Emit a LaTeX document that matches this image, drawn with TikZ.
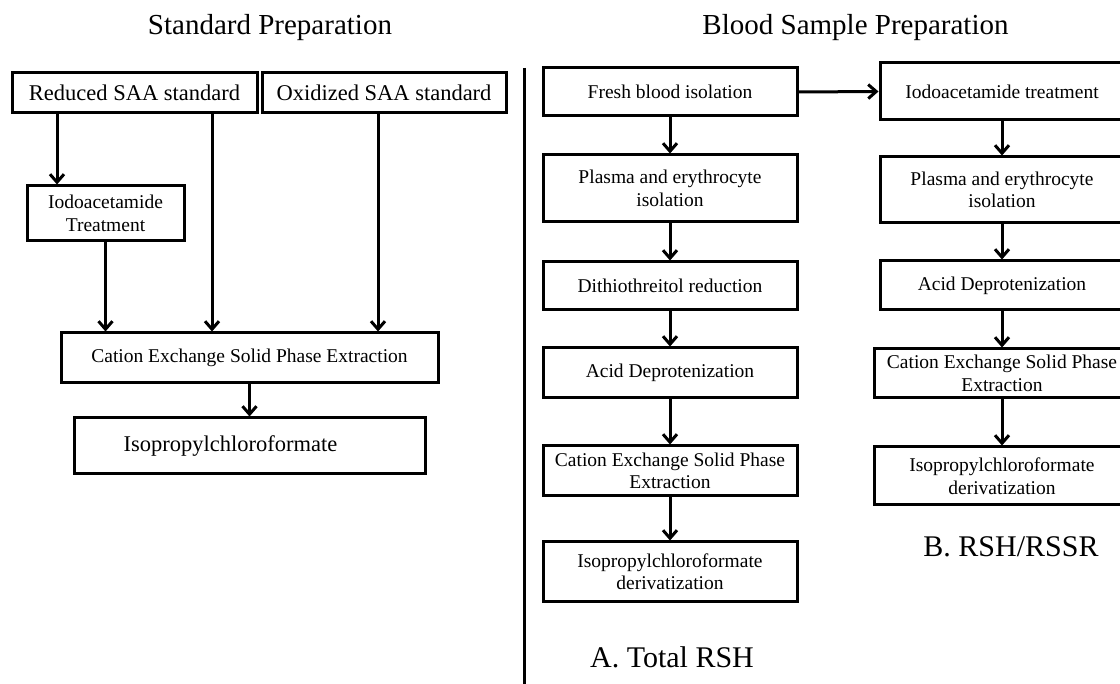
\documentclass[tikz,border=0pt]{standalone}
\usepackage{fontspec}
\setmainfont{Liberation Serif}
\usetikzlibrary{arrows.meta}
\tikzset{
  box/.style={draw=black, line width=3pt, rectangle, inner sep=0pt, align=center,
    font=\fontsize{19.5}{22.5}\selectfont},
  bigbox/.style={box, font=\fontsize{22.5}{26}\selectfont},
  arr/.style={line width=3pt, -{Straight Barb[length=8pt,width=14pt,line width=3pt]}},
  title/.style={anchor=base, inner sep=0pt, font=\fontsize{29}{34}\selectfont},
  tag/.style={anchor=base, inner sep=0pt, font=\fontsize{30}{36}\selectfont},
}
\begin{document}
\begin{tikzpicture}[x=1pt,y=-1pt]
\useasboundingbox[fill=white] (0,0) rectangle (1120,684);

% titles
\node[title] (t1) at (270,35) {Standard Preparation};
\node[title] (t2) at (855.5,35) {Blood Sample Preparation};

% divider
\coordinate (d1) at (524,68);
\coordinate (d2) at (524,684);
\draw[line width=3pt] (d1) -- (d2);

% standard preparation
\node[bigbox, minimum width=245pt, minimum height=40pt] (red) at (134.5,93) {Reduced SAA standard};
\node[bigbox, minimum width=244pt, minimum height=40pt] (ox) at (384,93) {Oxidized SAA standard};
\node[box, minimum width=157pt, minimum height=55pt] (iodoS) at (105.5,213.5) {Iodoacetamide\\Treatment};
\node[box, minimum width=377pt, minimum height=50pt] (ceS) at (249.5,358) {Cation Exchange Solid Phase Extraction};
\node[bigbox, minimum width=351pt, minimum height=56pt] (isoS) at (249.5,446) {Isopropylchloroformate\hspace*{38pt}};

\coordinate (xa) at (57,0);
\coordinate (xb) at (105.5,0);
\coordinate (xc) at (212,0);
\coordinate (xd) at (378,0);
\draw[arr] (red.south -| xa) -- (iodoS.north -| xa);
\draw[arr] (iodoS.south -| xb) -- (ceS.north -| xb);
\draw[arr] (red.south -| xc) -- (ceS.north -| xc);
\draw[arr] (ox.south -| xd) -- (ceS.north -| xd);
\draw[arr] (ceS.south) -- (isoS.north);

% column A
\node[box, minimum width=254pt, minimum height=48pt] (fresh) at (670,92) {Fresh blood isolation};
\node[box, minimum width=254pt, minimum height=67pt] (plA) at (670,188.5) {Plasma and erythrocyte\\isolation};
\node[box, minimum width=254pt, minimum height=48pt] (dtt) at (670,286) {Dithiothreitol reduction};
\node[box, minimum width=254pt, minimum height=50pt] (acidA) at (670,373) {Acid Deprotenization};
\node[box, minimum width=254pt, minimum height=50pt] (ceA) at (670,471) {Cation Exchange Solid Phase\\Extraction};
\node[box, minimum width=254pt, minimum height=59pt] (isoA) at (670,571.5) {Isopropylchloroformate\\derivatization};
\node[tag] (labA) at (672,667) {A. Total RSH};

\draw[arr] (fresh) -- (plA);
\draw[arr] (plA) -- (dtt);
\draw[arr] (dtt) -- (acidA);
\draw[arr] (acidA) -- (ceA);
\draw[arr] (ceA) -- (isoA);

% column B
\node[box, minimum width=244pt, minimum height=57pt] (iodoB) at (1002,91.5) {Iodoacetamide treatment};
\node[box, minimum width=244pt, minimum height=66pt] (plB) at (1002,190) {Plasma and erythrocyte\\isolation};
\node[box, minimum width=244pt, minimum height=49pt] (acidB) at (1002,285.5) {Acid Deprotenization};
\node[box, minimum width=256pt, minimum height=49pt] (ceB) at (1002,373.5) {Cation Exchange Solid Phase\\Extraction};
\node[box, minimum width=256pt, minimum height=58pt] (isoB) at (1002,476) {Isopropylchloroformate\\derivatization};
\node[tag] (labB) at (1011,557) {B. RSH/RSSR};

\draw[arr] (fresh.east) -- (iodoB.west);
\draw[arr] (iodoB) -- (plB);
\draw[arr] (plB) -- (acidB);
\draw[arr] (acidB) -- (ceB);
\draw[arr] (ceB) -- (isoB);
\end{tikzpicture}
\end{document}
